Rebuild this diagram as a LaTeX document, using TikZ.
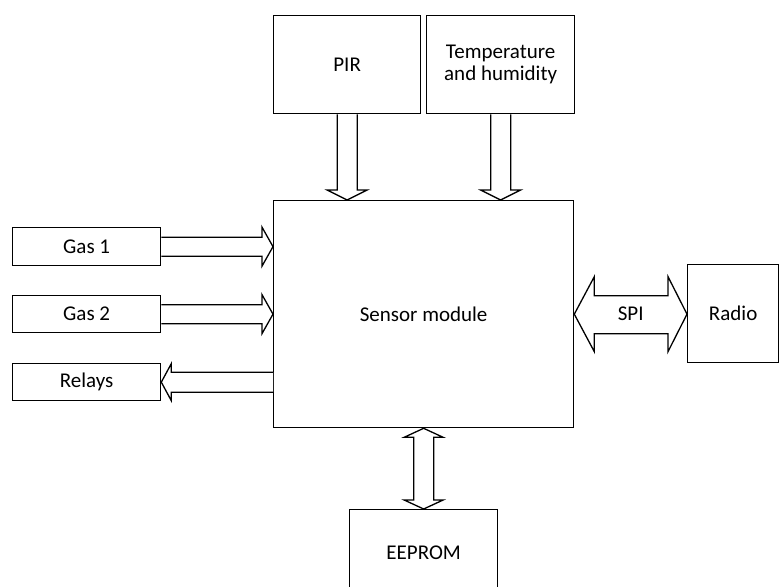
\documentclass[tikz,border=0pt]{standalone}
\usepackage{fontspec}
\setmainfont{Carlito}
\usetikzlibrary{calc}
\begin{document}
\begin{tikzpicture}[x=1pt,y=-1pt,
  box/.style={draw=black,line width=1.3pt,inner sep=0pt,anchor=north west,align=center,
    font=\fontsize{21}{22}\selectfont},
  fat/.style={draw=black,line width=1.3pt,line join=miter,fill=white},
  lbl/.style={font=\fontsize{21}{22}\selectfont,inner sep=0pt}]
\fill[white] (0,0) rectangle (780,587);
\clip (0,0) rectangle (780,587);
\useasboundingbox (0,0) rectangle (780,587);
% boxes
\node[box,minimum width=147pt,minimum height=98pt] (pir) at (273,15) {PIR};
\node[box,minimum width=148pt,minimum height=98pt] (th) at (426,15) {Temperature\\and humidity};
\node[box,minimum width=300pt,minimum height=227pt] (sensor) at (273,200) {Sensor module};
\node[box,minimum width=148pt,minimum height=38pt] (gas1) at (12,227) {Gas 1};
\node[box,minimum width=148pt,minimum height=37pt] (gas2) at (12,295) {Gas 2};
\node[box,minimum width=148pt,minimum height=37pt] (relays) at (12,363) {Relays};
\node[box,minimum width=91pt,minimum height=98pt] (radio) at (687,264) {Radio};
\node[box,minimum width=148pt,minimum height=100pt] (eeprom) at (349,509) {};
\node[lbl] at ($(eeprom.north)+(0,44)$) {EEPROM};
% PIR arrow
\coordinate (a1) at (pir.south);
\coordinate (a2) at (pir.south |- sensor.north);
\draw[fat] ($(a1)+(-10,0)$) -- ($(a2)+(-10,-10)$) -- ($(a2)+(-20,-10)$) -- (a2)
  -- ($(a2)+(20,-10)$) -- ($(a2)+(10,-10)$) -- ($(a1)+(10,0)$);
% TH arrow
\coordinate (b1) at (th.south);
\coordinate (b2) at (th.south |- sensor.north);
\draw[fat] ($(b1)+(-10,0)$) -- ($(b2)+(-10,-10)$) -- ($(b2)+(-20,-10)$) -- (b2)
  -- ($(b2)+(20,-10)$) -- ($(b2)+(10,-10)$) -- ($(b1)+(10,0)$);
% Gas 1 arrow
\coordinate (c1) at (gas1.east);
\coordinate (c2) at (gas1.east -| sensor.west);
\draw[fat] ($(c1)+(0,-9.5)$) -- ($(c2)+(-11,-9.5)$) -- ($(c2)+(-11,-19.5)$) -- (c2)
  -- ($(c2)+(-11,19.5)$) -- ($(c2)+(-11,9.5)$) -- ($(c1)+(0,9.5)$);
% Gas 2 arrow
\coordinate (d1) at (gas2.east);
\coordinate (d2) at (gas2.east -| sensor.west);
\draw[fat] ($(d1)+(0,-9.5)$) -- ($(d2)+(-11,-9.5)$) -- ($(d2)+(-11,-19.5)$) -- (d2)
  -- ($(d2)+(-11,19.5)$) -- ($(d2)+(-11,9.5)$) -- ($(d1)+(0,9.5)$);
% Relays arrow
\coordinate (e1) at (relays.east -| sensor.west);
\coordinate (e2) at (relays.east);
\draw[fat] ($(e1)+(0,-10)$) -- ($(e2)+(10,-10)$) -- ($(e2)+(10,-18.5)$) -- (e2)
  -- ($(e2)+(10,18.5)$) -- ($(e2)+(10,10)$) -- ($(e1)+(0,10)$);
% SPI double arrow
\coordinate (f1) at (sensor.east);
\coordinate (f2) at (sensor.east -| radio.west);
\draw[fat] (f1) -- ($(f1)+(20,-37.5)$) -- ($(f1)+(20,-18.5)$) -- ($(f2)+(-19,-18.5)$)
  -- ($(f2)+(-19,-37.5)$) -- (f2) -- ($(f2)+(-19,37.5)$) -- ($(f2)+(-19,19.5)$)
  -- ($(f1)+(20,19.5)$) -- ($(f1)+(20,37.5)$) -- cycle;
\node[lbl] (spi) at ($(f1)!0.5!(f2)$) {SPI};
% EEPROM double arrow
\coordinate (g1) at (sensor.south);
\coordinate (g2) at (sensor.south |- eeprom.north);
\draw[fat] (g1) -- ($(g1)+(19.5,9)$) -- ($(g1)+(10,9)$) -- ($(g2)+(10,-9)$)
  -- ($(g2)+(19.5,-9)$) -- (g2) -- ($(g2)+(-19.5,-9)$) -- ($(g2)+(-10,-9)$)
  -- ($(g1)+(-10,9)$) -- ($(g1)+(-19.5,9)$) -- cycle;
\end{tikzpicture}
\end{document}
